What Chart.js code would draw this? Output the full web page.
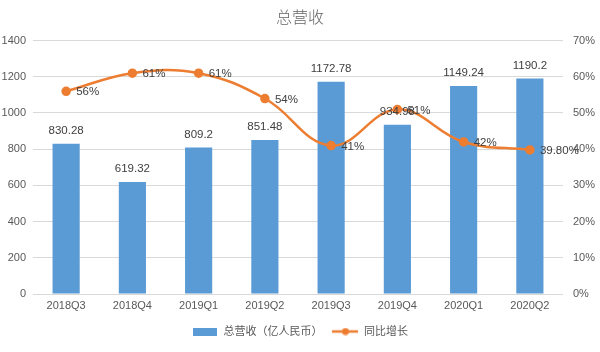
<!DOCTYPE html>
<html>
<head>
    <meta charset="utf-8"/>
    <title>总营收</title>
    <script src="https://cdn.jsdelivr.net/npm/chart.js@4/dist/chart.umd.min.js"></script>
    <style>
        html, body { margin: 0; padding: 0; background: #fff; }
        .chart-container { width: 600px; height: 352px; }
    </style>
</head>
<body>
    <div class="chart-container">
        <canvas id="myChart"></canvas>
    </div>
    <script>
        const quarters = ['2018Q3', '2018Q4', '2019Q1', '2019Q2', '2019Q3', '2019Q4', '2020Q1', '2020Q2'];
        const revenue = [830.28, 619.32, 809.2, 851.48, 1172.78, 934.98, 1149.24, 1190.2];
        const growth = [56, 61, 61, 54, 41, 51, 42, 39.8];
        const revenueLabel = '总营收（亿人民币）';
        const growthLabel = '同比增长';

        const blue = '#5b9bd5';
        const orange = '#ed7d31';
        const textColor = '#595959';
        const fontFamily = '"Liberation Sans", "Noto Sans CJK SC", sans-serif';

        function fmtPct(v) {
            return Number.isInteger(v) ? v + '%' : v.toFixed(2) + '%';
        }

        // legend symbols
        function makeSymbol(w, h, draw) {
            const c = document.createElement('canvas');
            c.width = w;
            c.height = h;
            draw(c.getContext('2d'));
            return c;
        }
        const barSymbol = makeSymbol(24, 8, g => {
            g.fillStyle = blue;
            g.fillRect(0, 0, 24, 8);
        });
        const lineSymbol = makeSymbol(26, 8, g => {
            g.strokeStyle = orange;
            g.lineWidth = 2.5;
            g.beginPath();
            g.moveTo(0, 4);
            g.lineTo(26, 4);
            g.stroke();
            g.fillStyle = orange;
            g.beginPath();
            g.arc(13, 4, 3.5, 0, Math.PI * 2);
            g.fill();
        });

        const valueLabels = {
            id: 'valueLabels',
            afterDatasetsDraw(chart) {
                const ctx = chart.ctx;
                ctx.save();
                ctx.font = '11.5px ' + fontFamily;
                ctx.fillStyle = '#404040';
                const bars = chart.getDatasetMeta(0).data;
                ctx.textAlign = 'center';
                ctx.textBaseline = 'middle';
                bars.forEach((b, i) => {
                    ctx.fillText(String(revenue[i]), b.x, b.y - 13);
                });
                const pts = chart.getDatasetMeta(1).data;
                ctx.textAlign = 'left';
                pts.forEach((p, i) => {
                    ctx.fillText(fmtPct(growth[i]), p.x + 10, p.y + 1);
                });
                ctx.restore();
            }
        };

        const ctx = document.getElementById('myChart').getContext('2d');
        const myChart = new Chart(ctx, {
            type: 'bar',
            data: {
                labels: quarters,
                datasets: [{
                    label: revenueLabel,
                    data: revenue,
                    backgroundColor: blue,
                    categoryPercentage: 1,
                    barPercentage: 0.41,
                    yAxisID: 'y',
                    order: 2,
                    pointStyle: barSymbol,
                }, {
                    type: 'line',
                    label: growthLabel,
                    data: growth,
                    borderColor: orange,
                    backgroundColor: orange,
                    borderWidth: 2.5,
                    pointRadius: 3.5,
                    pointBackgroundColor: orange,
                    pointBorderColor: orange,
                    tension: 0.4,
                    fill: false,
                    yAxisID: 'y1',
                    order: 1,
                    pointStyle: 'circle',
                }]
            },
            options: {
                responsive: true,
                maintainAspectRatio: false,
                animation: false,
                layout: { padding: { left: 0, right: 0, top: 0, bottom: 5 } },
                plugins: {
                    title: {
                        display: true,
                        text: '总营收',
                        color: '#666666',
                        font: { family: '"Noto Sans CJK SC", sans-serif', size: 16, weight: 300 },
                        padding: { top: 7, bottom: 14.4 },
                    },
                    legend: {
                        position: 'bottom',
                        labels: {
                            color: textColor,
                            font: { family: fontFamily, size: 11 },
                            usePointStyle: true,
                            pointStyleWidth: 26,
                            padding: 10,
                            generateLabels(chart) {
                                return chart.data.datasets.map((ds, i) => ({
                                    text: ds.label,
                                    fontColor: textColor,
                                    pointStyle: i === 0 ? barSymbol : lineSymbol,
                                    datasetIndex: i,
                                    hidden: false,
                                    lineWidth: 0,
                                    strokeStyle: 'transparent',
                                    fillStyle: 'transparent',
                                }));
                            }
                        }
                    },
                    tooltip: { enabled: false },
                },
                scales: {
                    x: {
                        grid: { display: false, drawTicks: false },
                        border: { display: false },
                        ticks: { color: textColor, font: { family: fontFamily, size: 11 }, padding: 5, maxRotation: 0 },
                        afterFit(scale) { scale.height = 22; },
                    },
                    y: {
                        position: 'left',
                        min: 0,
                        max: 1400,
                        grid: { color: '#d9d9d9', drawTicks: false },
                        border: { display: false },
                        ticks: { stepSize: 200, color: textColor, font: { family: fontFamily, size: 11 }, padding: 7,
                            callback: v => String(v) },
                        afterFit(scale) { scale.width = 33; },
                    },
                    y1: {
                        position: 'right',
                        min: 0,
                        max: 70,
                        grid: { display: false, drawTicks: false },
                        border: { display: false },
                        ticks: { stepSize: 10, color: textColor, font: { family: fontFamily, size: 11 }, padding: 10,
                            callback: v => v + '%' },
                        afterFit(scale) { scale.width = 37; },
                    }
                }
            },
            plugins: [valueLabels]
        });
    </script>
</body>
</html>
